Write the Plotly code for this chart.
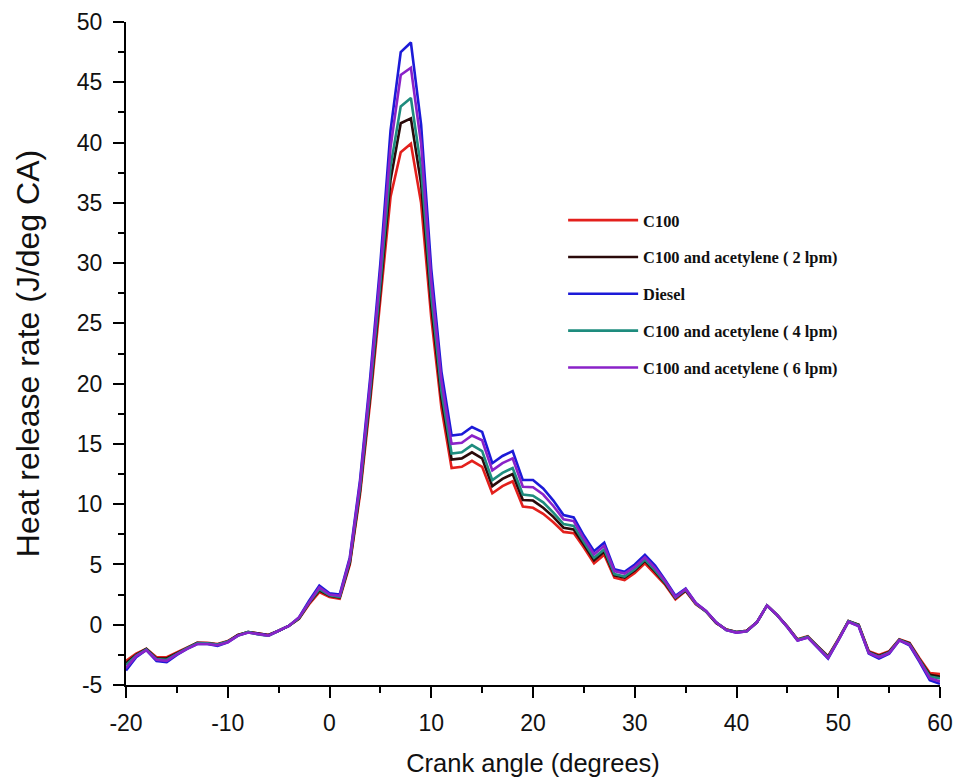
import plotly.graph_objects as go

crank_angle = list(range(-20, 61))

c100 = [-3.0, -2.4, -2.0, -2.7, -2.7, -2.3, -1.9, -1.5, -1.5, -1.6,
        -1.35, -0.85, -0.6, -0.75, -0.85, -0.5, -0.1, 0.5, 1.7, 2.7,
        2.3, 2.15, 5.0, 10.8, 18.5, 27.0, 35.5, 39.2, 39.9, 35.0,
        25.5, 18.0, 13.0, 13.1, 13.6, 13.1, 10.9, 11.5, 11.9, 9.8,
        9.7, 9.2, 8.5, 7.7, 7.6, 6.4, 5.1, 5.8, 3.9, 3.7,
        4.3, 5.1, 4.2, 3.3, 2.1, 2.8, 1.7, 1.1, 0.15, -0.4,
        -0.6, -0.5, 0.2, 1.6, 0.8, -0.15, -1.2, -0.95, -1.8, -2.6,
        -1.2, 0.3, 0.0, -2.2, -2.5, -2.2, -1.2, -1.5, -2.8, -4.0,
        -4.1]

c100_acet_2 = [-3.2, -2.5, -2.0, -2.8, -2.8, -2.35, -1.9, -1.5, -1.55, -1.65,
               -1.4, -0.85, -0.6, -0.75, -0.85, -0.5, -0.1, 0.5, 1.8, 2.85,
               2.4, 2.25, 5.15, 11.1, 19.0, 27.75, 36.9, 41.6, 42.0, 36.6,
               26.5, 18.75, 13.7, 13.8, 14.3, 13.8, 11.5, 12.1, 12.5, 10.35,
               10.3, 9.7, 8.95, 8.05, 7.9, 6.65, 5.35, 6.05, 4.1, 3.9,
               4.5, 5.3, 4.4, 3.4, 2.2, 2.85, 1.75, 1.1, 0.15, -0.4,
               -0.6, -0.5, 0.2, 1.6, 0.8, -0.15, -1.25, -1.0, -1.85, -2.65,
               -1.25, 0.3, 0.0, -2.25, -2.6, -2.25, -1.25, -1.55, -2.9, -4.15,
               -4.3]

diesel = [-3.8, -2.7, -2.1, -3.0, -3.1, -2.5, -2.0, -1.6, -1.6, -1.75,
          -1.45, -0.9, -0.65, -0.8, -0.9, -0.5, -0.1, 0.6, 2.0, 3.25,
          2.6, 2.5, 5.6, 12.0, 20.5, 30.0, 41.0, 47.5, 48.3, 41.5,
          29.5, 21.0, 15.7, 15.8, 16.4, 16.0, 13.4, 14.0, 14.4, 12.0,
          12.0, 11.3, 10.3, 9.1, 8.9, 7.4, 6.1, 6.8, 4.6, 4.4,
          5.0, 5.8, 4.9, 3.7, 2.4, 3.0, 1.8, 1.15, 0.2, -0.45,
          -0.65, -0.55, 0.2, 1.6, 0.8, -0.2, -1.3, -1.05, -1.9, -2.8,
          -1.3, 0.25, -0.1, -2.4, -2.8, -2.4, -1.3, -1.7, -3.1, -4.6,
          -4.9]

c100_acet_4 = [-3.35, -2.55, -2.05, -2.85, -2.9, -2.4, -1.95, -1.55, -1.55, -1.65,
               -1.4, -0.9, -0.6, -0.8, -0.9, -0.5, -0.1, 0.55, 1.85, 2.95,
               2.45, 2.3, 5.3, 11.35, 19.4, 28.35, 38.0, 43.0, 43.7, 37.9,
               27.3, 19.35, 14.2, 14.3, 14.9, 14.4, 12.0, 12.6, 13.0, 10.8,
               10.7, 10.15, 9.3, 8.35, 8.2, 6.85, 5.55, 6.25, 4.2, 4.0,
               4.6, 5.4, 4.5, 3.5, 2.25, 2.9, 1.75, 1.1, 0.2, -0.45,
               -0.6, -0.55, 0.2, 1.6, 0.8, -0.2, -1.25, -1.0, -1.85, -2.7,
               -1.25, 0.3, -0.05, -2.3, -2.65, -2.3, -1.25, -1.6, -2.95, -4.3,
               -4.45]

c100_acet_6 = [-3.6, -2.6, -2.1, -2.9, -3.0, -2.45, -2.0, -1.6, -1.6, -1.7,
               -1.45, -0.9, -0.65, -0.8, -0.9, -0.5, -0.1, 0.6, 1.9, 3.1,
               2.5, 2.4, 5.45, 11.7, 20.0, 29.25, 39.6, 45.6, 46.2, 39.9,
               28.5, 20.25, 15.0, 15.1, 15.7, 15.3, 12.8, 13.4, 13.8, 11.45,
               11.4, 10.8, 9.85, 8.75, 8.6, 7.15, 5.85, 6.55, 4.45, 4.25,
               4.8, 5.6, 4.7, 3.6, 2.3, 2.95, 1.8, 1.15, 0.2, -0.45,
               -0.65, -0.55, 0.2, 1.6, 0.8, -0.2, -1.3, -1.05, -1.9, -2.75,
               -1.3, 0.25, -0.1, -2.35, -2.7, -2.35, -1.3, -1.65, -3.0, -4.45,
               -4.7]

series_names = ["C100", "C100 and acetylene ( 2 lpm)", "Diesel",
                "C100 and acetylene ( 4 lpm)", "C100 and acetylene ( 6 lpm)"]
series_values = [c100, c100_acet_2, diesel, c100_acet_4, c100_acet_6]
series_colors = ["#e3201c", "#2a0a0a", "#1c1ad8", "#1e8c7e", "#8a22c8"]

x_ticks = [-20, -10, 0, 10, 20, 30, 40, 50, 60]
y_ticks = [-5, 0, 5, 10, 15, 20, 25, 30, 35, 40, 45, 50]

fig = go.Figure()
for i, (name, vals, col) in enumerate(zip(series_names, series_values, series_colors)):
    fig.add_trace(go.Scatter(
        x=crank_angle, y=vals, mode="lines", name="<b>" + name + "</b>",
        line=dict(color=col, width=2.6), legendgroup="g%d" % i,
    ))

sans = "Liberation Sans, Arial, sans-serif"
tick_font = dict(family=sans, size=23, color="#111")

fig.update_layout(
    width=958, height=782,
    margin=dict(l=126, r=18, t=22, b=97),
    paper_bgcolor="white", plot_bgcolor="white",
    showlegend=True,
    legend=dict(
        x=0.537, y=0.727, xanchor="left", yanchor="top",
        bgcolor="white", borderwidth=0,
        font=dict(family="Liberation Serif, Times New Roman, serif", size=16.4, color="#111"),
        tracegroupgap=12.5, itemwidth=70,
    ),
    xaxis=dict(
        range=[-20, 60], tickvals=x_ticks, ticktext=[str(v) for v in x_ticks],
        showgrid=False, zeroline=False, showline=True, linecolor="black", linewidth=2,
        ticks="outside", ticklen=11, tickwidth=2, tickcolor="black",
        minor=dict(dtick=5, ticks="outside", ticklen=6, tickwidth=2, tickcolor="black", showgrid=False),
        tickfont=tick_font, ticklabelstandoff=5, automargin=False,
        title=dict(text="Crank angle (degrees)", standoff=20,
                   font=dict(family=sans, size=25.5, color="#111")),
    ),
    yaxis=dict(
        range=[-5, 50], tickvals=y_ticks, ticktext=[str(v) for v in y_ticks],
        showgrid=False, zeroline=False, showline=True, linecolor="black", linewidth=2,
        ticks="outside", ticklen=11, tickwidth=2, tickcolor="black",
        minor=dict(dtick=2.5, ticks="outside", ticklen=6, tickwidth=2, tickcolor="black", showgrid=False),
        tickfont=tick_font, ticklabelstandoff=6, automargin=False,
        title=dict(text="Heat release rate (J/deg CA)", standoff=28,
                   font=dict(family=sans, size=32, color="#111")),
    ),
)

fig.write_html("out.html")
